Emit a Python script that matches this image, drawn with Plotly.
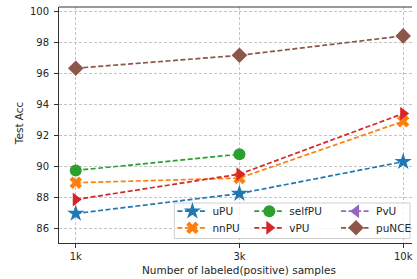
import plotly.graph_objects as go

categories = ["1k", "3k", "10k"]
uPU = [86.97, 88.25, 90.3]
nnPU = [88.95, 89.25, 92.9]
selfPU = [89.74, 90.78, None]
vPU = [87.87, 89.5, 93.4]
PvU = [None, None, None]
puNCE = [96.32, 97.15, 98.4]
y_ticks = [86, 88, 90, 92, 94, 96, 98, 100]

W, H = 417, 279
L, R, T, B = 59, 0, 7, 36
PW, PH = W - L - R, H - T - B

def px(x):
    return (x - L) / PW

def py(y):
    return (H - B - y) / PH

xs = list(range(len(categories)))
# name, values, color, symbol, size, legend col x (px), legend row top (px)
series = [
    ("uPU", uPU, "#1f77b4", "star", 13, 174, 196.7),
    ("nnPU", nnPU, "#ff7f0e", "x", 11, 174, 213.3),
    ("selfPU", selfPU, "#2ca02c", "circle", 12, 252, 196.7),
    ("vPU", vPU, "#d62728", "triangle-right", 12, 252, 213.3),
    ("PvU", PvU, "#9467bd", "triangle-left", 12, 340, 196.7),
    ("puNCE", puNCE, "#8c564b", "diamond", 12, 340, 213.3),
]

font = dict(family="DejaVu Sans", size=10, color="#262626")
font_big = dict(family="DejaVu Sans", size=10.5, color="#262626")
leg_common = dict(bgcolor="rgba(0,0,0,0)", borderwidth=0, font=font_big,
                  xanchor="left", yanchor="top", orientation="v",
                  tracegroupgap=0, itemwidth=30)

fig = go.Figure()
legends = {}
for i, (name, vals, color, sym, size, lx, ly) in enumerate(series):
    key = "legend" if i == 0 else f"legend{i + 1}"
    fig.add_trace(go.Scatter(
        x=xs, y=vals, name=name, mode="lines+markers",
        line=dict(color=color, width=1.7, dash="5px,2.5px"),
        marker=dict(symbol=sym, size=size, color=color, line=dict(width=0)),
        legend=key, connectgaps=False,
    ))
    legends[key] = dict(x=px(lx), y=py(ly), **leg_common)

fig.update_layout(
    width=W, height=H,
    margin=dict(l=L, r=R, t=T, b=B),
    paper_bgcolor="white", plot_bgcolor="white",
    font=font,
    showlegend=True,
    **legends,
    xaxis=dict(
        range=[-0.1024, 2.054], tickmode="array", tickvals=xs, ticktext=categories,
        showgrid=True, gridcolor="#c4c4c4", griddash="3px,2px", gridwidth=1,
        showline=True, linecolor="#333", linewidth=1,
        ticks="outside", ticklen=4, tickcolor="#333", zeroline=False,
        tickfont=font,
    ),
    yaxis=dict(
        range=[85.07, 100.26], tickmode="array", tickvals=y_ticks,
        showgrid=True, gridcolor="#c4c4c4", griddash="3px,2px", gridwidth=1,
        showline=True, linecolor="#333", linewidth=1,
        ticks="outside", ticklen=4, tickcolor="#333", zeroline=False,
        tickfont=font, ticklabelstandoff=3,
    ),
    shapes=[
        dict(type="line", xref="paper", yref="paper", x0=0, x1=1, y0=1, y1=1,
             line=dict(color="#333", width=1), layer="above"),
        dict(type="rect", xref="paper", yref="paper",
             x0=px(176), x1=px(415), y0=py(238.5), y1=py(203),
             fillcolor="rgba(255,255,255,0.8)", line=dict(color="#d0d0d0", width=1),
             layer="above"),
    ],
    annotations=[
        dict(text="Test Acc", xref="paper", yref="paper", x=px(18.3), y=py(123.3),
             textangle=-90, showarrow=False, font=font_big, xanchor="center", yanchor="middle"),
        dict(text="Number of labeled(positive) samples", xref="paper", yref="paper",
             x=px(241.2), y=py(270), showarrow=False, font=font_big,
             xanchor="center", yanchor="middle"),
    ],
)

fig.write_html(
    "out.html",
    config={"displayModeBar": False},
    post_script="document.body.style.margin='0';document.body.style.padding='0';document.body.style.overflow='hidden';",
)
